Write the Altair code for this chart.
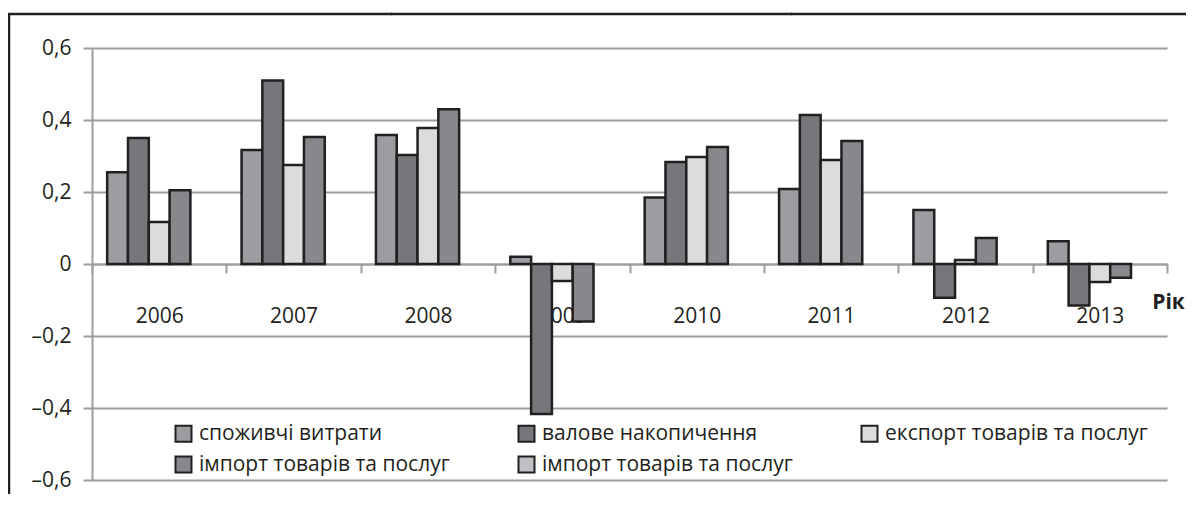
import altair as alt
import pandas as pd

years = ["2006", "2007", "2008", "2009", "2010", "2011", "2012", "2013"]
series = [
    "споживчі витрати",
    "валове накопичення",
    "експорт товарів та послуг",
    "імпорт товарів та послуг",
    "імпорт товарів та послуг\u200b",
]
consumption = [0.255, 0.317, 0.358, 0.02, 0.185, 0.208, 0.15, 0.063]
accumulation = [0.35, 0.51, 0.303, -0.417, 0.283, 0.414, -0.094, -0.115]
exports = [0.117, 0.275, 0.378, -0.047, 0.297, 0.289, 0.011, -0.05]
imports = [0.205, 0.353, 0.43, -0.16, 0.325, 0.342, 0.072, -0.038]
y_ticks = [-0.6, -0.4, -0.2, 0, 0.2, 0.4, 0.6]
colors = ["#9d9da1", "#77777b", "#dcdcde", "#88888c", "#c0c0c4"]

# legend is laid out column by column (2 rows), so order the domain to read row by row
legend_order = [0, 3, 1, 4, 2]
legend_domain = [series[i] for i in legend_order]
legend_range = [colors[i] for i in legend_order]

rows = []
for i, yr in enumerate(years):
    for name, vals in zip(series[:4], [consumption, accumulation, exports, imports]):
        rows.append({"year": yr, "series": name, "value": vals[i]})
df = pd.DataFrame(rows)

INK = "#231f20"
GRID = "#9d9d9f"
FONT = "Open Sans"

bars = alt.Chart(df).mark_bar(stroke=INK, strokeWidth=2.5).encode(
    x=alt.X(
        "year:N",
        scale=alt.Scale(domain=years, paddingInner=0, paddingOuter=0),
        axis=alt.Axis(
            title="Рік", labelAngle=0, offset=-216, tickBand="extent",
            tickSize=9, tickColor=GRID, tickWidth=2,
            domainColor=GRID, domainWidth=2, grid=False,
            labelPadding=32, labelFontSize=21, labelFont=FONT, labelColor=INK,
            titleFont=FONT, titleFontWeight="bold", titleFontSize=21, titleColor=INK,
            titleX=1076, titleY=38, titleAlign="center", titleBaseline="middle", titleAngle=0,
        ),
    ),
    xOffset=alt.XOffset(
        "series:N",
        scale=alt.Scale(domain=series, paddingInner=0, paddingOuter=0.73),
    ),
    y=alt.Y(
        "value:Q",
        scale=alt.Scale(domain=[-0.6, 0.6], nice=False),
        axis=alt.Axis(
            title=None, values=y_ticks,
            labelExpr="datum.value == 0 ? '0' : (datum.value < 0 ? '–' : '') + replace(format(abs(datum.value), '.1f'), '.', ',')",
            grid=True, gridColor=GRID, gridWidth=2,
            domainColor=GRID, domainWidth=2,
            tickColor=GRID, tickWidth=2, tickSize=9,
            labelPadding=12, labelFontSize=21, labelFont=FONT, labelColor=INK,
        ),
    ),
    color=alt.Color(
        "series:N",
        scale=alt.Scale(domain=legend_domain, range=legend_range),
        legend=alt.Legend(
            title=None, orient="none", legendX=81, legendY=375, columns=3,
            columnPadding=64, rowPadding=6, symbolType="square", symbolSize=256,
            symbolStrokeColor=INK, symbolStrokeWidth=2, labelFontSize=21,
            labelFont=FONT, labelColor=INK, labelOffset=5, labelLimit=400, padding=0,
        ),
    ),
)

# outer frame of the figure (top and left edges; the rest lies outside the picture)
frame = pd.DataFrame({"k": [0]})
seg1 = alt.Chart(frame).mark_rule(stroke=INK, strokeWidth=2.5).encode(
    x=alt.value(-84), x2=alt.value(300), y=alt.value(-34)
)
seg2 = alt.Chart(frame).mark_rule(stroke=INK, strokeWidth=2.5).encode(
    x=alt.value(299), x2=alt.value(700), y=alt.value(-34)
)
seg3 = alt.Chart(frame).mark_rule(stroke=INK, strokeWidth=2.5).encode(
    x=alt.value(699), x2=alt.value(1094), y=alt.value(-34)
)
left_line = alt.Chart(frame).mark_rule(stroke=INK, strokeWidth=2.5).encode(
    x=alt.value(-83), y=alt.value(-35), y2=alt.value(452)
)

chart = alt.layer(seg1, seg2, seg3, left_line, bars).properties(
    width=1075,
    height=432,
    autosize=alt.AutoSizeParams(type="none"),
    padding={"left": 84, "top": 40, "right": 20, "bottom": 14},
    background="white",
).configure_view(strokeWidth=0)

chart.save("out.html", embed_options={"renderer": "svg", "actions": False})
